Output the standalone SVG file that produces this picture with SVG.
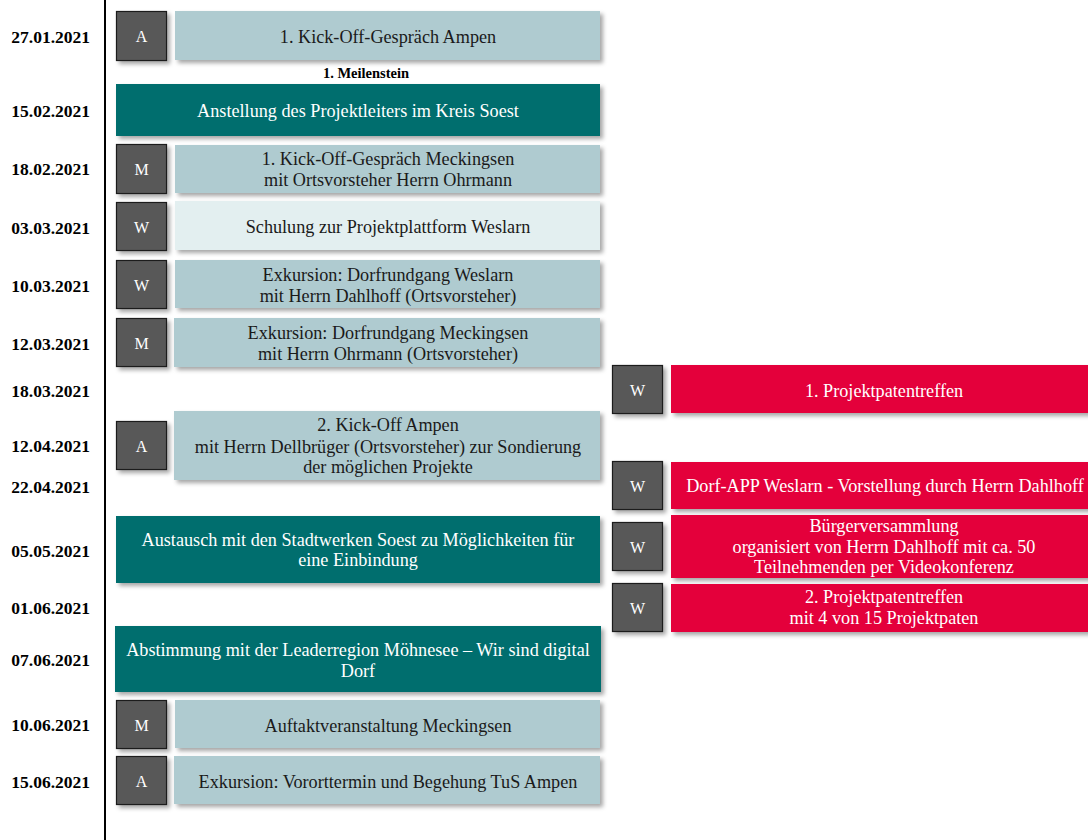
<svg xmlns="http://www.w3.org/2000/svg" width="1088" height="840" viewBox="0 0 1088 840">
<defs>
<filter id="sh" x="-10%" y="-20%" width="130%" height="160%">
<feDropShadow dx="3" dy="3" stdDeviation="2" flood-color="#000" flood-opacity="0.35"/>
</filter>
<style>
text{font-family:"Liberation Serif","Times New Roman",serif}
.date{font-weight:bold;font-size:17.5px;fill:#000;text-anchor:end}
.sq{fill:#595959;stroke:#1a1a1a;stroke-width:1.2;filter:url(#sh)}
.sqt{font-size:16px;fill:#fff;text-anchor:middle}
.lb{fill:#AFCBD0;filter:url(#sh)}
.vl{fill:#E3EFF0;filter:url(#sh)}
.tl{fill:#006E6E;filter:url(#sh)}
.rd{fill:#E4003A;filter:url(#sh)}
.tx{font-size:18.2px;fill:#1a1a1a;text-anchor:middle}
.tw{font-size:18.2px;fill:#fff;text-anchor:middle}
.ms{font-weight:bold;font-size:14.5px;fill:#000;text-anchor:middle}
</style>
</defs>
<rect width="1088" height="840" fill="#fff"/>
<g id="axis">
<line x1="105" y1="0" x2="105" y2="840" stroke="#000" stroke-width="2"/>
</g>
<g id="dates">
<text class="date" x="90" y="43">27.01.2021</text>
<text class="date" x="90" y="117">15.02.2021</text>
<text class="date" x="90" y="175">18.02.2021</text>
<text class="date" x="90" y="234">03.03.2021</text>
<text class="date" x="90" y="292">10.03.2021</text>
<text class="date" x="90" y="350">12.03.2021</text>
<text class="date" x="90" y="397">18.03.2021</text>
<text class="date" x="90" y="452">12.04.2021</text>
<text class="date" x="90" y="493">22.04.2021</text>
<text class="date" x="90" y="557">05.05.2021</text>
<text class="date" x="90" y="614">01.06.2021</text>
<text class="date" x="90" y="666">07.06.2021</text>
<text class="date" x="90" y="731">10.06.2021</text>
<text class="date" x="90" y="788">15.06.2021</text>
</g>
<g id="e1">
<rect class="sq" x="116.5" y="11.5" width="50" height="49"/>
<text class="sqt" x="141.5" y="42">A</text>
<rect class="lb" x="175" y="11" width="425" height="49"/>
<text class="tx" x="388" y="43">1. Kick-Off-Gespräch Ampen</text>
</g>
<g id="milestone">
<text class="ms" x="366" y="78">1. Meilenstein</text>
</g>
<g id="e2">
<rect class="tl" x="116" y="84" width="484" height="52"/>
<text class="tw" x="358" y="117">Anstellung des Projektleiters im Kreis Soest</text>
</g>
<g id="e3">
<rect class="sq" x="116.5" y="144.5" width="50" height="49"/>
<text class="sqt" x="141.5" y="175">M</text>
<rect class="lb" x="175" y="145" width="425" height="48"/>
<text class="tx" x="388" y="165">1. Kick-Off-Gespräch Meckingsen</text>
<text class="tx" x="388" y="186">mit Ortsvorsteher Herrn Ohrmann</text>
</g>
<g id="e4">
<rect class="sq" x="116.5" y="202.5" width="50" height="48"/>
<text class="sqt" x="141.5" y="233">W</text>
<rect class="vl" x="175" y="201" width="425" height="49"/>
<text class="tx" x="388" y="233">Schulung zur Projektplattform Weslarn</text>
</g>
<g id="e5">
<rect class="sq" x="116.5" y="260.5" width="50" height="48"/>
<text class="sqt" x="141.5" y="291">W</text>
<rect class="lb" x="175" y="260" width="425" height="48"/>
<text class="tx" x="388" y="281">Exkursion: Dorfrundgang Weslarn</text>
<text class="tx" x="388" y="302">mit Herrn Dahlhoff (Ortsvorsteher)</text>
</g>
<g id="e6">
<rect class="sq" x="116.5" y="318.5" width="50" height="48"/>
<text class="sqt" x="141.5" y="349">M</text>
<rect class="lb" x="174" y="318" width="426" height="49"/>
<text class="tx" x="388" y="339">Exkursion: Dorfrundgang Meckingsen</text>
<text class="tx" x="388" y="360">mit Herrn Ohrmann (Ortsvorsteher)</text>
</g>
<g id="e7">
<rect class="sq" x="612.5" y="365.5" width="50" height="48"/>
<text class="sqt" x="637.5" y="396">W</text>
<rect class="rd" x="671" y="365" width="420" height="48"/>
<text class="tw" x="884" y="397">1. Projektpatentreffen</text>
</g>
<g id="e8">
<rect class="sq" x="116.5" y="421.5" width="50" height="48"/>
<text class="sqt" x="141.5" y="452">A</text>
<rect class="lb" x="174" y="411" width="426" height="69"/>
<text class="tx" x="388" y="431">2. Kick-Off Ampen</text>
<text class="tx" x="388" y="453">mit Herrn Dellbrüger (Ortsvorsteher) zur Sondierung</text>
<text class="tx" x="388" y="473">der möglichen Projekte</text>
</g>
<g id="e9">
<rect class="sq" x="612.5" y="461.5" width="50" height="48"/>
<text class="sqt" x="637.5" y="492">W</text>
<rect class="rd" x="671" y="462" width="420" height="47"/>
<text class="tw" x="885" y="492">Dorf-APP Weslarn - Vorstellung durch Herrn Dahlhoff</text>
</g>
<g id="e10">
<rect class="tl" x="116" y="516" width="484" height="67"/>
<text class="tw" x="358" y="546">Austausch mit den Stadtwerken Soest zu Möglichkeiten für</text>
<text class="tw" x="358" y="566">eine Einbindung</text>
</g>
<g id="e11">
<rect class="sq" x="612.5" y="522.5" width="50" height="48"/>
<text class="sqt" x="637.5" y="553">W</text>
<rect class="rd" x="671" y="515" width="420" height="63"/>
<text class="tw" x="884" y="532">Bürgerversammlung</text>
<text class="tw" x="884" y="553">organisiert von Herrn Dahlhoff mit ca. 50</text>
<text class="tw" x="884" y="573">Teilnehmenden per Videokonferenz</text>
</g>
<g id="e12">
<rect class="sq" x="612.5" y="583.5" width="50" height="48"/>
<text class="sqt" x="637.5" y="614">W</text>
<rect class="rd" x="671" y="584" width="420" height="48"/>
<text class="tw" x="884" y="603">2. Projektpatentreffen</text>
<text class="tw" x="884" y="624">mit 4 von 15 Projektpaten</text>
</g>
<g id="e13">
<rect class="tl" x="115" y="626" width="486" height="66"/>
<text class="tw" x="358" y="656">Abstimmung mit der Leaderregion Möhnesee – Wir sind digital</text>
<text class="tw" x="358" y="677">Dorf</text>
</g>
<g id="e14">
<rect class="sq" x="116.5" y="700.5" width="50" height="48"/>
<text class="sqt" x="141.5" y="731">M</text>
<rect class="lb" x="175" y="700" width="425" height="48"/>
<text class="tx" x="388" y="732">Auftaktveranstaltung Meckingsen</text>
</g>
<g id="e15">
<rect class="sq" x="116.5" y="756.5" width="50" height="48"/>
<text class="sqt" x="141.5" y="787">A</text>
<rect class="lb" x="174" y="756" width="426" height="48"/>
<text class="tx" x="388" y="788">Exkursion: Vororttermin und Begehung TuS Ampen</text>
</g>
</svg>
